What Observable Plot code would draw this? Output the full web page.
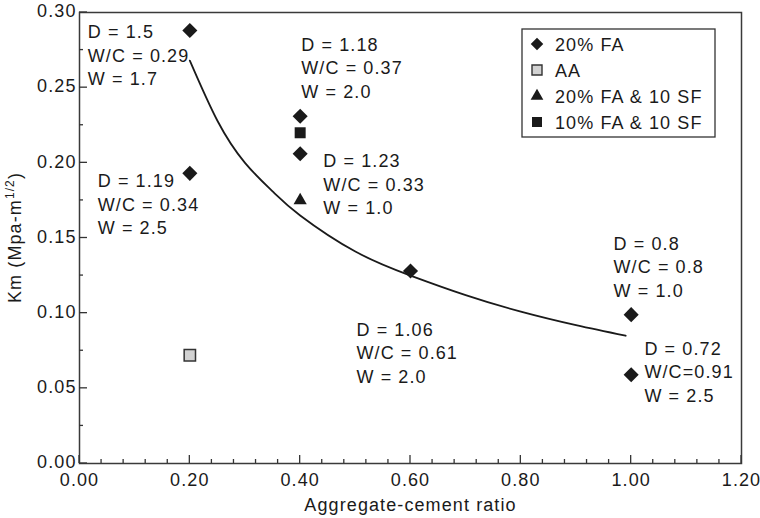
<!DOCTYPE html>
<html>
<head>
<meta charset="utf-8">
<script src="https://cdn.jsdelivr.net/npm/d3@7"></script>
<script src="https://cdn.jsdelivr.net/npm/@observablehq/plot@0.6"></script>
<style>
  html, body { margin: 0; padding: 0; background: #fff; }
  #chart svg { display: block; }
</style>
</head>
<body>
<div id="chart"></div>
<script>
// ---- data ----
const fa20X = [0.2, 0.2, 0.4, 0.4, 0.6, 1.0, 1.0];
const fa20Y = [0.288, 0.193, 0.231, 0.206, 0.128, 0.099, 0.059];
const aaX = [0.2];
const aaY = [0.072];
const fa20sf10X = [0.4];
const fa20sf10Y = [0.175];
const fa10sf10X = [0.4];
const fa10sf10Y = [0.220];

// fitted trend curve
const curveX = [0.20, 0.25, 0.30, 0.35, 0.40, 0.50, 0.60, 0.70, 0.80, 0.90, 0.99];
const curveY = [0.268, 0.228, 0.200, 0.181, 0.165, 0.141, 0.125, 0.112, 0.101, 0.092, 0.085];

// annotation text blocks and their anchor (top-left) in data units
const noteText = [
  "D = 1.5\nW/C = 0.29\nW = 1.7",
  "D = 1.18\nW/C = 0.37\nW = 2.0",
  "D = 1.23\nW/C = 0.33\nW = 1.0",
  "D = 1.19\nW/C = 0.34\nW = 2.5",
  "D = 0.8\nW/C = 0.8\nW = 1.0",
  "D = 1.06\nW/C = 0.61\nW = 2.0",
  "D = 0.72\nW/C=0.91\nW = 2.5"
];
const noteX = [0.015, 0.402, 0.442, 0.033, 0.968, 0.502, 1.024];
const noteY = [0.294, 0.2854, 0.2082, 0.1949, 0.153, 0.0958, 0.0832];

const xMajor = [0, 0.2, 0.4, 0.6, 0.8, 1.0, 1.2];
const xMinor = [0.04, 0.08, 0.12, 0.16, 0.24, 0.28, 0.32, 0.36, 0.44, 0.48, 0.52, 0.56,
                0.64, 0.68, 0.72, 0.76, 0.84, 0.88, 0.92, 0.96, 1.04, 1.08, 1.12, 1.16];
const yMajor = [0, 0.05, 0.10, 0.15, 0.20, 0.25, 0.30];
const yMinor = [0.025, 0.075, 0.125, 0.175, 0.225, 0.275];

const legendLabels = ["20% FA", "AA", "20% FA & 10 SF", "10% FA & 10 SF"];

const xTitle = "Aggregate-cement ratio";

// ---- build ----
const pts = (xs, ys) => xs.map((x, i) => ({x, y: ys[i]}));
const curve = pts(curveX, curveY);
const notes = noteText.map((t, i) => ({t, x: noteX[i], y: noteY[i]}));

const W = 760, H = 518;
const mL = 79, mR = 19, mT = 12, mB = 55;
const innerH = H - mT - mB;
const xMax = 1.2, yMax = 0.3;
const ink = "#1a1a1a";
const font = "'Liberation Sans', Arial, Helvetica, sans-serif";

const plot = Plot.plot({
  width: W, height: H,
  marginLeft: mL, marginRight: mR, marginTop: mT, marginBottom: mB,
  style: {fontFamily: font, fontSize: "18px", letterSpacing: "1.1px", color: ink, background: "#fff"},
  x: {domain: [0, xMax]},
  y: {domain: [0, yMax]},
  marks: [
    Plot.axisX({ticks: xMajor, tickSize: 0, tickPadding: 10, tickFormat: d => d.toFixed(2), label: null, fontSize: 18}),
    Plot.axisY({ticks: yMajor, tickSize: 0, tickPadding: 3, tickFormat: d => d.toFixed(2), label: null, fontSize: 18, dy: -1}),
    Plot.frame({stroke: "#3a3a3a", strokeWidth: 1.5}),
    Plot.line(curve, {x: "x", y: "y", curve: "natural", stroke: ink, strokeWidth: 1.8}),
    Plot.dot(pts(fa20X, fa20Y), {x: "x", y: "y", symbol: "diamond2", r: 6.8, fill: ink}),
    Plot.dot(pts(aaX, aaY), {x: "x", y: "y", symbol: "square", r: 6.4, fill: "#d2d2d2", stroke: "#333", strokeWidth: 1.5}),
    Plot.dot(pts(fa20sf10X, fa20sf10Y), {x: "x", y: "y", symbol: "triangle", r: 4.9, fill: ink}),
    Plot.dot(pts(fa10sf10X, fa10sf10Y), {x: "x", y: "y", symbol: "square", r: 6.2, fill: ink}),
    Plot.text(notes, {x: "x", y: "y", text: "t", textAnchor: "start", lineAnchor: "top", lineHeight: 1.3, fontSize: 18, fill: ink}),
    Plot.text([xTitle], {frameAnchor: "bottom", lineAnchor: "middle", dy: 42, fontSize: 18, fill: ink})
  ]
});

document.getElementById("chart").appendChild(plot);

const svg = d3.select(plot);
const sx = plot.scale("x"), sy = plot.scale("y");
const X = v => sx.apply(v), Y = v => sy.apply(v);

// ---- inward ticks drawn from the plot's own scales ----
const tg = svg.append("g");
const seg = (x1, y1, x2, y2) => tg.append("path")
  .attr("d", `M${x1},${y1}L${x2},${y2}`)
  .attr("fill", "none").attr("stroke", "#333").attr("stroke-width", 1.3);
const y0 = Y(0), x0 = X(0);
xMajor.forEach(v => seg(X(v), y0, X(v), y0 - 8));
xMinor.forEach(v => seg(X(v), y0, X(v), y0 - 4));
yMajor.forEach(v => seg(x0, Y(v), x0 + 8, Y(v)));
yMinor.forEach(v => seg(x0, Y(v), x0 + 4, Y(v)));

// ---- y-axis title with superscript ----
const yt = svg.append("text")
  .attr("transform", `translate(21,${mT + innerH / 2}) rotate(-90)`)
  .attr("text-anchor", "middle")
  .attr("font-family", font)
  .attr("font-size", 18)
  .attr("letter-spacing", "1.1px")
  .attr("fill", ink);
yt.append("tspan").text("Km (Mpa-m");
yt.append("tspan").attr("font-size", 12).attr("dy", -7).text("1/2");
yt.append("tspan").attr("dy", 7).text(")");

// ---- legend box ----
const lg = svg.append("g").attr("transform", "translate(522,29)");
lg.append("rect").attr("width", 193).attr("height", 108)
  .attr("fill", "#fff").attr("stroke", "#333").attr("stroke-width", 1.3);
const legendSymbols = [
  {type: d3.symbolDiamond2, size: 100, fill: ink, stroke: "none"},
  {type: d3.symbolSquare, size: 100, fill: "#d2d2d2", stroke: "#333"},
  {type: d3.symbolTriangle, size: 70, fill: ink, stroke: "none"},
  {type: d3.symbolSquare, size: 100, fill: ink, stroke: "none"}
];
legendLabels.forEach((lab, i) => {
  const cy = 15 + i * 26;
  const s = legendSymbols[i];
  lg.append("path")
    .attr("d", d3.symbol(s.type, s.size)())
    .attr("transform", `translate(15,${cy})`)
    .attr("fill", s.fill).attr("stroke", s.stroke).attr("stroke-width", 1.4);
  lg.append("text")
    .attr("x", 33).attr("y", cy + 6.5)
    .attr("text-anchor", "start")
    .attr("font-family", font).attr("font-size", 18).attr("letter-spacing", "1.1px")
    .attr("fill", ink).text(lab);
});
</script>
</body>
</html>
